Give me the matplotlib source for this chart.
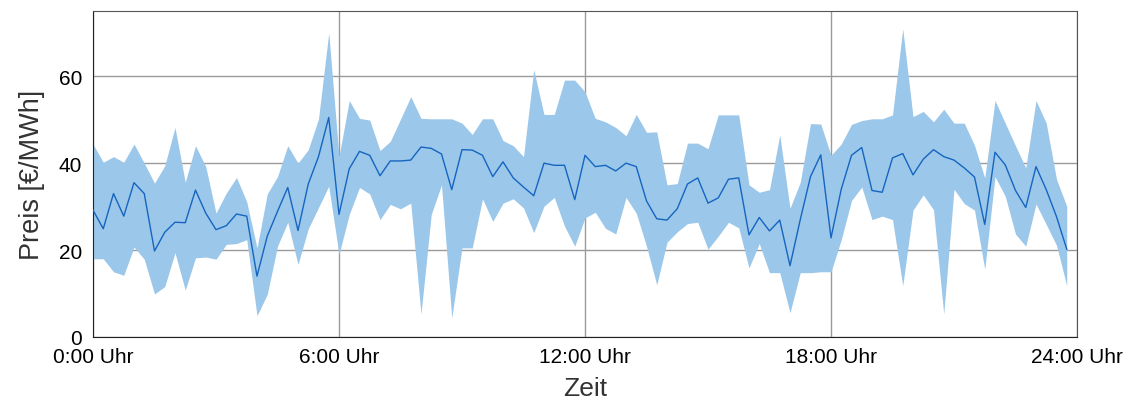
import numpy as np
import matplotlib.pyplot as plt

plt.rcParams['font.family'] = ['Liberation Sans', 'DejaVu Sans']

# 15-minute steps over one day
hours = np.arange(96) * 0.25

price_mean = [
    29.2, 24.9, 33.0, 27.8, 35.5, 33.0, 19.8, 24.1, 26.4, 26.3, 33.8, 28.5,
    24.7, 25.6, 28.3, 27.8, 14.0, 23.2, 28.9, 34.4, 24.5, 35.2, 41.5, 50.5,
    28.2, 38.7, 42.7, 41.8, 37.1, 40.5, 40.5, 40.7, 43.7, 43.4, 42.1, 33.9,
    43.1, 43.0, 41.8, 36.9, 40.3, 36.6, 34.5, 32.5, 40.0, 39.5, 39.5, 31.6,
    41.8, 39.2, 39.5, 38.2, 40.0, 39.2, 31.3, 27.2, 26.9, 29.5, 35.2, 36.6,
    30.8, 32.0, 36.3, 36.6, 23.5, 27.5, 24.4, 26.9, 16.4, 27.0, 36.9, 41.9,
    22.8, 34.0, 41.8, 43.6, 33.7, 33.3, 41.2, 42.2, 37.3, 40.9, 43.1, 41.5,
    40.7, 38.9, 36.8, 25.9, 42.5, 39.6, 33.7, 29.8, 39.2, 33.9, 27.7, 20.2,
]

price_max = [
    44.4, 40.2, 41.5, 40.2, 44.4, 40.0, 35.4, 39.4, 48.2, 35.6, 44.0, 39.2,
    28.5, 33.1, 36.7, 31.1, 20.5, 32.9, 36.9, 44.0, 40.0, 43.1, 50.2, 70.0,
    41.5, 54.4, 50.3, 49.9, 42.9, 45.0, 50.1, 55.3, 50.3, 50.2, 50.2, 50.2,
    49.2, 46.6, 50.2, 50.2, 45.2, 44.0, 41.5, 61.5, 51.2, 51.2, 59.1, 59.1,
    56.4, 50.3, 49.5, 48.2, 46.3, 51.2, 47.1, 47.2, 35.0, 35.3, 44.6, 44.6,
    43.3, 51.1, 51.1, 51.1, 35.0, 33.3, 33.9, 46.5, 29.6, 35.6, 49.1, 49.0,
    41.8, 44.4, 48.9, 49.8, 50.2, 50.2, 51.1, 70.9, 50.7, 51.9, 49.5, 52.4,
    49.2, 49.2, 44.1, 36.6, 54.4, 49.2, 44.0, 38.9, 54.4, 49.2, 36.3, 30.1,
]

price_min = [
    18.0, 18.0, 15.0, 14.2, 20.7, 17.9, 9.9, 11.6, 19.4, 10.8, 18.2, 18.4,
    17.9, 21.3, 21.5, 22.4, 4.9, 9.8, 20.9, 26.4, 16.7, 24.9, 29.8, 34.7,
    19.0, 28.2, 34.4, 32.9, 27.0, 30.5, 29.5, 30.8, 5.3, 28.2, 35.0, 4.4,
    20.5, 20.5, 31.8, 26.6, 30.8, 31.8, 29.7, 24.0, 30.1, 32.1, 25.5, 20.9,
    27.4, 28.7, 25.0, 23.7, 32.1, 28.5, 20.9, 12.0, 21.8, 24.2, 26.1, 26.4,
    20.2, 23.2, 26.4, 25.1, 15.9, 21.5, 14.8, 14.8, 5.6, 14.8, 14.8, 15.0,
    15.0, 22.4, 31.4, 34.5, 27.0, 27.8, 27.0, 11.8, 29.2, 32.7, 29.3, 5.3,
    34.0, 30.7, 29.2, 15.6, 36.9, 32.4, 23.7, 20.9, 30.6, 25.9, 21.1, 11.8,
]

hour_ticks = [0, 6, 12, 18, 24]
hour_labels = ["0:00 Uhr", "6:00 Uhr", "12:00 Uhr", "18:00 Uhr", "24:00 Uhr"]

fig = plt.figure(figsize=(11.38, 4.1), dpi=100)
ax = fig.add_axes([93 / 1138, 1 - 338 / 410, 984 / 1138, 326 / 410])

ax.fill_between(hours, price_min, price_max, color="#9bc7ea", linewidth=0, zorder=2)
ax.plot(hours, price_mean, color="#1565c0", linewidth=1.0, zorder=3)

ax.set_xlim(0, 24)
ax.set_ylim(0, 75)
ax.set_xticks(hour_ticks)
ax.set_xticklabels(hour_labels)
ax.set_yticks([0, 20, 40, 60])
ax.grid(True, color="#9a9a9a", linewidth=1.0, zorder=1)
ax.tick_params(length=0, labelsize=15)
ax.tick_params(axis="y", pad=8)
ax.tick_params(axis="x", pad=7.5)

for side in ["left", "bottom"]:
    ax.spines[side].set_color("#222222")
for side in ["top", "right"]:
    ax.spines[side].set_color("#555555")

ax.set_xlabel("Zeit", fontsize=19, color="#333333", labelpad=7)
ax.set_ylabel("Preis [€/MWh]", fontsize=19.5, color="#333333", labelpad=10)

fig.savefig("out.png", dpi=100)
